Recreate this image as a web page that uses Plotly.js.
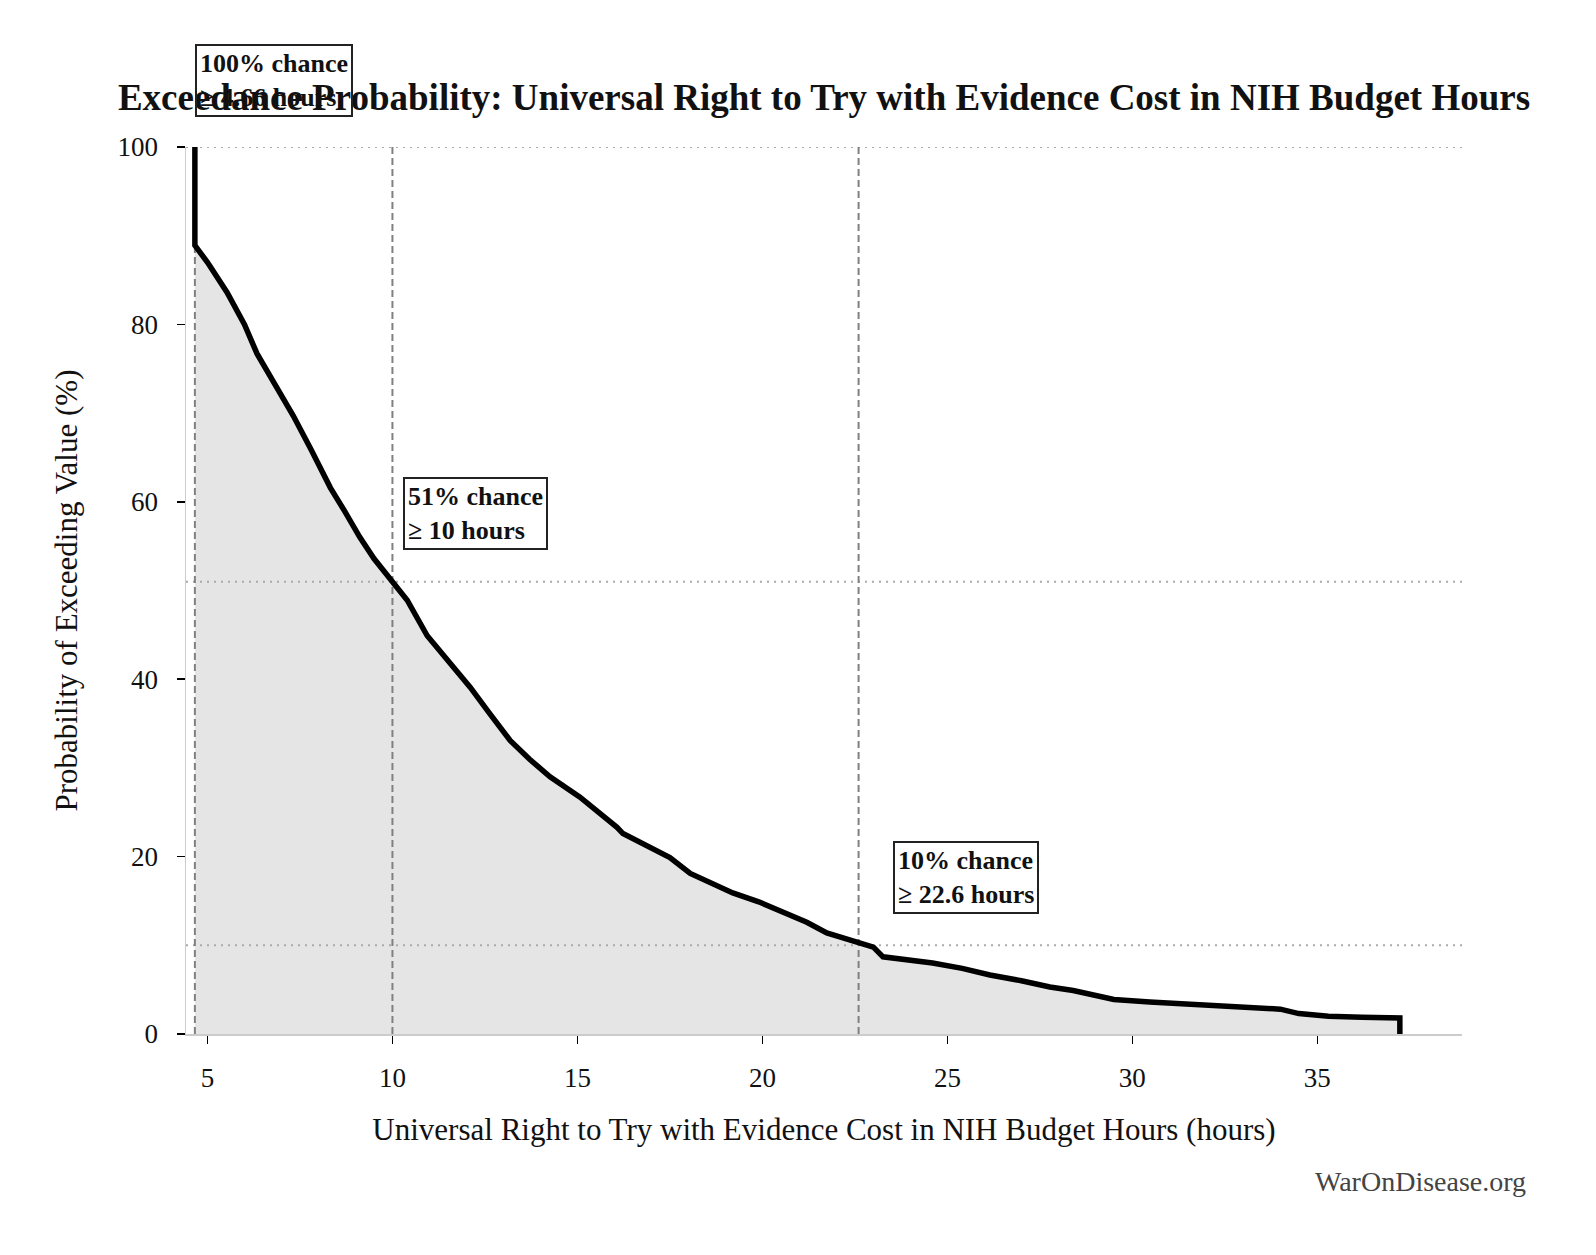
<!DOCTYPE html>
<html>
<head>
<meta charset="utf-8">
<script src="https://cdn.plot.ly/plotly-3.0.1.min.js"></script>
<style>
  html, body { margin: 0; padding: 0; background: #fff; }
  #chart { width: 1596px; height: 1255px; }
</style>
</head>
<body>
<div id="chart"></div>
<script>
// exceedance curve
const hours = [4.66, 4.66, 5.0, 5.53, 6.0, 6.34, 6.8, 7.32, 7.8, 8.32, 8.7, 9.12, 9.5, 10.0,
    10.4, 10.94, 11.56, 12.1, 12.6, 13.18, 13.7, 14.26, 15.07, 15.6, 16.07, 16.23, 16.96,
    17.5, 18.05, 18.6, 19.2, 19.9, 20.56, 21.2, 21.74, 22.2, 22.59, 23.0, 23.26, 24.0, 24.6,
    25.4, 26.15, 27.0, 27.77, 28.4, 28.93, 29.5, 30.47, 31.5, 32.4, 33.17, 34.0, 34.5, 35.3,
    36.2, 37.23, 37.23];
const prob = [100, 88.9, 87.0, 83.6, 80.0, 76.7, 73.4, 69.7, 65.9, 61.6, 59.0, 56.0, 53.6, 51.0,
    48.9, 44.9, 41.8, 39.1, 36.3, 33.1, 31.0, 29.0, 26.7, 25.0, 23.3, 22.6, 21.0,
    19.9, 18.1, 17.0, 15.9, 14.9, 13.7, 12.6, 11.4, 10.8, 10.2, 9.8, 8.7, 8.3, 8.0,
    7.4, 6.65, 6.0, 5.3, 4.9, 4.4, 3.9, 3.6, 3.4, 3.1, 3.0, 2.8, 2.3, 2.0,
    1.9, 1.8, 0];

// marked thresholds
const markHours = [4.66, 10, 22.6];
const markProb = [100, 51, 10];
const markLabels = ['100% chance<br>≥ 4.66 hours', '51% chance<br>≥ 10 hours', '10% chance<br>≥ 22.6 hours'];

const xTicks = [5, 10, 15, 20, 25, 30, 35];
const yTicks = [0, 20, 40, 60, 80, 100];

const xRange = [4.42, 38.91];
const yRange = [0, 100];
const serif = '"Liberation Serif", "DejaVu Serif", serif';

const traces = [];

// grey area under the curve
traces.push({
    x: hours, y: prob, type: 'scatter', mode: 'lines',
    fill: 'tozeroy', fillcolor: '#e5e5e5',
    line: {width: 0, color: 'rgba(0,0,0,0)'},
    hoverinfo: 'skip', showlegend: false
});

// dotted horizontal guides
for (let i = 0; i < markProb.length; i++) {
    traces.push({
        x: xRange, y: [markProb[i], markProb[i]], type: 'scatter', mode: 'lines',
        line: {color: '#aaaaaa', width: 2, dash: '2px,5px'},
        hoverinfo: 'skip', showlegend: false
    });
}

// dashed vertical guides
for (let i = 0; i < markHours.length; i++) {
    traces.push({
        x: [markHours[i], markHours[i]], y: yRange, type: 'scatter', mode: 'lines',
        line: {color: '#808080', width: 2, dash: '7px,4px'},
        hoverinfo: 'skip', showlegend: false
    });
}

// the curve itself
traces.push({
    x: hours, y: prob, type: 'scatter', mode: 'lines',
    line: {color: '#000000', width: 5.5},
    showlegend: false
});

const shifts = [[0, 30], [11, 32], [34, 31]];
const annotations = markLabels.map((t, i) => ({
    x: markHours[i], y: markProb[i], xref: 'x', yref: 'y',
    text: '<b>' + t.replace('<br>', '</b><br><b>') + '</b>',
    showarrow: false, align: 'left',
    xanchor: 'left', yanchor: 'bottom',
    xshift: shifts[i][0], yshift: shifts[i][1],
    font: {family: serif, size: 26, color: '#111'},
    bgcolor: i === 0 ? 'rgba(255,255,255,0)' : '#ffffff',
    bordercolor: '#222', borderwidth: 2, borderpad: 3
}));

annotations.push({
    text: 'WarOnDisease.org', showarrow: false,
    xref: 'paper', yref: 'paper', x: 1.052, y: -0.166,
    xanchor: 'right', yanchor: 'middle',
    font: {family: serif, size: 28, color: '#444'}
});

const layout = {
    width: 1596, height: 1255,
    margin: {l: 186, r: 134, t: 147, b: 221},
    paper_bgcolor: '#ffffff', plot_bgcolor: '#ffffff',
    font: {family: serif, color: '#111'},
    title: {
        text: '<b>Exceedance Probability: Universal Right to Try with Evidence Cost in NIH Budget Hours</b>',
        font: {family: serif, size: 37, color: '#111'},
        xref: 'paper', x: 0.5, xanchor: 'center',
        yref: 'container', y: 0.923, yanchor: 'middle'
    },
    xaxis: {
        range: xRange, tickvals: xTicks,
        showgrid: false, zeroline: false,
        showline: true, linecolor: '#cccccc', linewidth: 1.5,
        ticks: 'outside', ticklen: 8, tickwidth: 1.5, tickcolor: '#000',
        ticklabelstandoff: 11,
        tickfont: {family: serif, size: 27, color: '#111'},
        title: {text: 'Universal Right to Try with Evidence Cost in NIH Budget Hours (hours)',
                font: {family: serif, size: 31, color: '#111'}, standoff: 26}
    },
    yaxis: {
        range: yRange, tickvals: yTicks,
        showgrid: false, zeroline: false,
        showline: true, linecolor: '#cccccc', linewidth: 1.5,
        ticks: 'outside', ticklen: 8, tickwidth: 1.5, tickcolor: '#000',
        ticklabelstandoff: 13,
        tickfont: {family: serif, size: 27, color: '#111'},
        title: {text: 'Probability of Exceeding Value (%)',
                font: {family: serif, size: 31, color: '#111'}, standoff: 30}
    },
    annotations: annotations,
    showlegend: false
};

Plotly.newPlot('chart', traces, layout, {displayModeBar: false, staticPlot: true});
</script>
</body>
</html>
